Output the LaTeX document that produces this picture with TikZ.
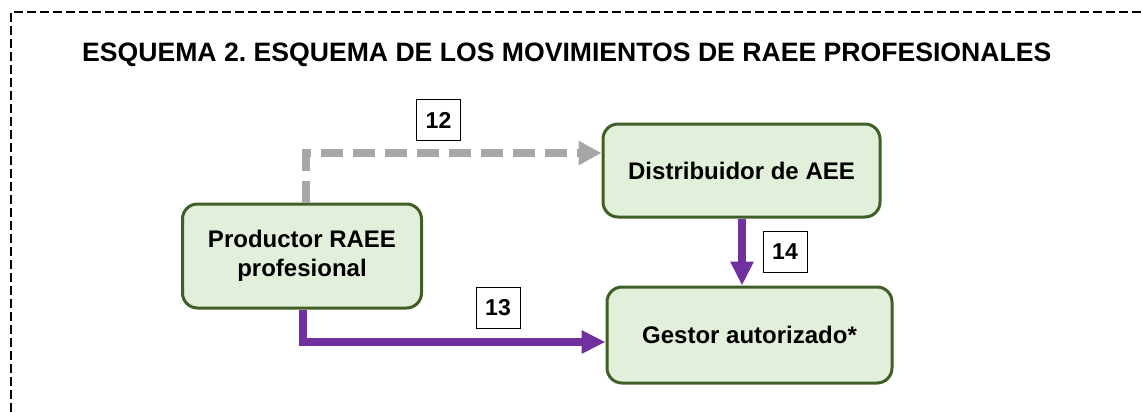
\documentclass[tikz,border=0pt]{standalone}
\usepackage{fontspec}
\setmainfont{Liberation Sans}
\usetikzlibrary{arrows.meta}
\definecolor{boxfill}{HTML}{E2EFDA}
\definecolor{boxline}{HTML}{3F5F27}
\definecolor{flowpurple}{HTML}{7030A0}
\definecolor{flowgray}{HTML}{A6A6A6}
\frenchspacing
\tikzset{
  stagebox/.style={draw=boxline, fill=boxfill, line width=3pt, rounded corners=15pt, align=center, font=\fontsize{24}{29}\selectfont\bfseries, inner sep=0pt},
  numlabel/.style={draw=black, line width=1pt, fill=white, minimum width=44pt, minimum height=41pt, inner sep=0pt, font=\fontsize{23}{26}\selectfont\bfseries},
  purpleflow/.style={draw=flowpurple, line width=8pt, -{Triangle[length=24pt,width=22pt]}},
  grayflow/.style={draw=flowgray, line width=8pt, dash pattern=on 22pt off 10pt, -{Triangle[length=23pt,width=23pt]}},
}
\begin{document}
\begin{tikzpicture}[x=1pt,y=-1pt]
\useasboundingbox (0,0) rectangle (1142,412);
\draw[line width=2.3pt, dash pattern=on 9pt off 4pt] (11,412) -- (11,12) -- (1142,12);
\node[anchor=base west, font=\fontsize{26.6}{30}\selectfont\bfseries, inner sep=0pt] (title) at (82,62) {ESQUEMA 2. ESQUEMA DE LOS MOVIMIENTOS DE RAEE PROFESIONALES};
\node[stagebox, minimum width=239pt, minimum height=104pt] (prod) at (302,256) {Productor RAEE\\profesional};
\node[stagebox, minimum width=277pt, minimum height=93pt] (dist) at (741.5,170.5) {Distribuidor de AEE};
\node[stagebox, minimum width=285pt, minimum height=96pt] (gest) at (749.5,335) {Gestor autorizado*};
\coordinate (c12) at (306,153);
\coordinate (c13) at (303,342);
\draw[grayflow] (prod.north -| c12) -- (c12) -- (c12 -| dist.west);
\draw[purpleflow] (prod.south -| c13) -- (c13) -- (c13 -| gest.west);
\draw[purpleflow] (dist.south -| 742,0) -- (gest.north -| 742,0);
\node[numlabel] (n12) at (438.5,120) {12};
\node[numlabel] (n13) at (498,307.5) {13};
\node[numlabel] (n14) at (785,251.5) {14};
\end{tikzpicture}
\end{document}
